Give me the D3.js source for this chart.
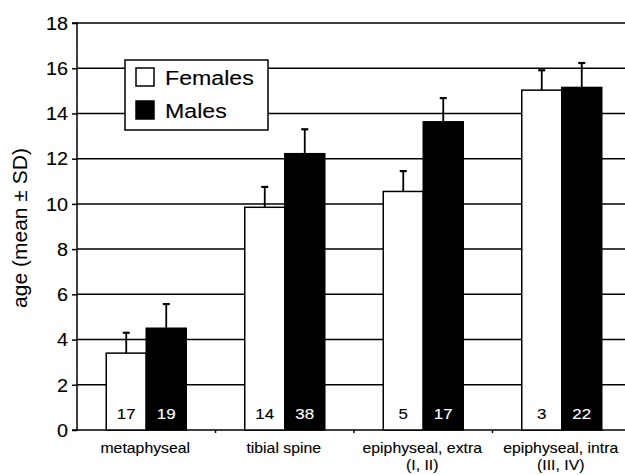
<!DOCTYPE html>
<html><head><meta charset="utf-8">
<script src="https://cdn.jsdelivr.net/npm/d3@7"></script>
<style>body{margin:0;background:#fff;} svg{display:block;font-family:"Liberation Sans",Arial,sans-serif;} text{stroke:#000;stroke-width:0.12px;} .wt{stroke:#fff;} .nt{stroke:none;}</style>
</head><body>
<script>
const categories = [["metaphyseal"], ["tibial spine"], ["epiphyseal, extra", "(I, II)"], ["epiphyseal, intra", "(III, IV)"]];
const catKeys = ["meta", "tibial", "extra", "intra"];
const series = ["Females", "Males"];
const femaleMean = [3.4, 9.85, 10.55, 15.03];
const femaleSD = [0.9, 0.9, 0.9, 0.88];
const maleMean = [4.5, 12.22, 13.63, 15.15];
const maleSD = [1.07, 1.08, 1.05, 1.08];
const femaleN = [17, 14, 5, 3];
const maleN = [19, 38, 17, 22];
const yTicks = [0, 2, 4, 6, 8, 10, 12, 14, 16, 18];

const W = 625, H = 475, SX = 1.13;
const svg = d3.select("body").append("svg").attr("width", W).attr("height", H);
const mLeft = 77, mRight = 631, mTop = 23, mBottom = 430;

const x = d3.scaleBand().domain(catKeys).range([mLeft, mRight]);
const xs = d3.scaleBand().domain(series).range([0, 80]);
const y = d3.scaleLinear().domain([0, 18]).range([mBottom, mTop]);

function place(sel, fx, fy) {
  sel.attr("x", null).attr("y", null)
    .attr("transform", (d, i) => `translate(${fx(d, i)},${fy(d, i)}) scale(${SX},1)`);
}

// gridlines
svg.append("g").selectAll("line").data(yTicks.filter(d => d > 0)).join("line")
  .attr("x1", mLeft).attr("x2", W).attr("y1", d => y(d)).attr("y2", d => y(d))
  .attr("stroke", "#000").attr("stroke-width", 1.5);

// y axis
const yAxis = d3.axisLeft(y).tickValues(yTicks).tickSize(5).tickFormat(d3.format("d"));
const ya = svg.append("g").attr("transform", `translate(${mLeft},0)`).call(yAxis);
ya.select(".domain").attr("stroke", "#000").attr("stroke-width", 1.5).attr("d", `M-5,${y(0)}H0V${y(18)}H-5`);
ya.selectAll(".tick line").attr("stroke", "#000").attr("stroke-width", 1.5);
const tt = ya.selectAll(".tick text").attr("font-size", 17.5).attr("fill", "#000").attr("dy", null)
  .attr("font-family", "Liberation Sans, Arial, sans-serif");
place(tt, () => -9, () => 6.3);

// x axis
svg.append("line").attr("x1", mLeft).attr("x2", W).attr("y1", mBottom).attr("y2", mBottom).attr("stroke", "#000").attr("stroke-width", 1.5);
svg.append("g").selectAll("line").data(catKeys.slice(1)).join("line")
  .attr("x1", d => x(d)).attr("x2", d => x(d)).attr("y1", mBottom).attr("y2", mBottom + 3)
  .attr("stroke", "#000").attr("stroke-width", 1.5);

const rows = catKeys.map((k, i) => ({
  k, items: [
    { s: "Females", m: femaleMean[i], sd: femaleSD[i], n: femaleN[i] },
    { s: "Males", m: maleMean[i], sd: maleSD[i], n: maleN[i] }
  ]
}));

const g = svg.append("g").selectAll("g").data(rows).join("g")
  .attr("transform", d => `translate(${x(d.k) + x.bandwidth() / 2 - 40},0)`);

const bars = g.selectAll("g.bar").data(d => d.items).join("g").attr("class", "bar");
bars.append("line").attr("x1", d => xs(d.s) + xs.bandwidth() / 2).attr("x2", d => xs(d.s) + xs.bandwidth() / 2)
  .attr("y1", d => y(d.m)).attr("y2", d => y(d.m + d.sd)).attr("stroke", "#000").attr("stroke-width", 1.8);
bars.append("line").attr("x1", d => xs(d.s) + xs.bandwidth() / 2 - 3.5).attr("x2", d => xs(d.s) + xs.bandwidth() / 2 + 3.5)
  .attr("y1", d => y(d.m + d.sd)).attr("y2", d => y(d.m + d.sd)).attr("stroke", "#000").attr("stroke-width", 2.2);
bars.append("rect").attr("x", d => xs(d.s)).attr("width", xs.bandwidth())
  .attr("y", d => y(d.m)).attr("height", d => y(0) - y(d.m))
  .attr("fill", d => d.s === "Females" ? "#fff" : "#000").attr("stroke", "#000").attr("stroke-width", 1.5);
const cnt = bars.append("text").attr("text-anchor", "middle").attr("font-size", 15)
  .attr("class", d => d.s === "Females" ? "" : "wt")
  .attr("fill", d => d.s === "Females" ? "#000" : "#fff").text(d => d.n);
place(cnt, d => xs(d.s) + xs.bandwidth() / 2, () => mBottom - 11);

// x labels
const xlData = [];
catKeys.forEach((k, i) => categories[i].forEach((t, j) => xlData.push({ k, t, j })));
const xl = svg.append("g").selectAll("text").data(xlData).join("text")
  .attr("text-anchor", "middle").attr("font-size", 14).attr("fill", "#000").text(d => d.t);
place(xl, d => x(d.k) + x.bandwidth() / 2 - 1, d => 453 + d.j * 17);

// y title
svg.append("text").attr("class", "nt").attr("transform", "translate(27,228) rotate(-90)").attr("text-anchor", "middle")
  .attr("font-size", 21).attr("fill", "#000").text("age (mean ± SD)");

// legend
const lg = svg.append("g");
lg.append("rect").attr("x", 125).attr("y", 60).attr("width", 143).attr("height", 70)
  .attr("fill", "#fff").attr("stroke", "#000").attr("stroke-width", 1.5);
const li = lg.selectAll("g").data(series).join("g").attr("transform", (d, i) => `translate(136,${68 + i * 33})`);
li.append("rect").attr("width", 18).attr("height", 18).attr("fill", d => d === "Females" ? "#fff" : "#000")
  .attr("stroke", "#000").attr("stroke-width", 1.5);
const lt = li.append("text").attr("font-size", 20.5).attr("fill", "#000").text(d => d);
place(lt, () => 29, () => 17);
</script>
</body></html>
